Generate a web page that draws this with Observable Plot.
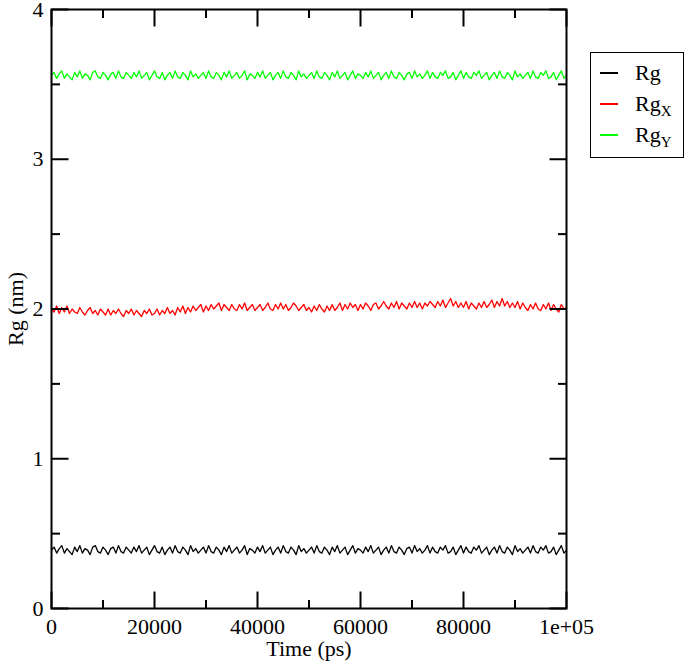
<!DOCTYPE html>
<html>
<head>
<meta charset="utf-8">
<script src="https://cdn.jsdelivr.net/npm/d3@7"></script>
<script src="https://cdn.jsdelivr.net/npm/@observablehq/plot@0.6"></script>
<style>
  body { margin: 0; background: #fff; }
  #wrap { position: relative; width: 685px; height: 666px; font-family: "Liberation Serif", "Times New Roman", serif; }
  #legend { position: absolute; left: 590px; top: 52px; width: 92px; height: 104px; border: 1.5px solid #000; background: #fff; }
  .row { position: absolute; left: 0; height: 30px; width: 92px; }
  .row .sw { position: absolute; left: 9px; width: 18px; height: 1.5px; }
  .row .lb { position: absolute; left: 44px; font-size: 22px; line-height: 1; color: #000; }
  .row .lb sub { font-size: 15px; vertical-align: -5px; line-height: 0; }
</style>
</head>
<body>
<div id="wrap"></div>
<script>
// sampling interval (ps) of the trajectory points
const dt = 500;
const rg = [
0.39,0.41,0.37,0.40,0.42,0.37,0.40,0.38,0.36,0.41,
0.38,0.42,0.37,0.40,0.39,0.36,0.41,0.42,0.38,0.37,
0.41,0.39,0.36,0.40,0.41,0.37,0.42,0.38,0.37,0.41,
0.39,0.37,0.41,0.38,0.42,0.37,0.39,0.41,0.36,0.39,
0.42,0.38,0.37,0.41,0.36,0.39,0.41,0.37,0.42,0.38,
0.37,0.41,0.39,0.36,0.42,0.38,0.40,0.37,0.39,0.41,
0.37,0.42,0.38,0.37,0.41,0.39,0.36,0.41,0.38,0.42,
0.37,0.39,0.41,0.37,0.39,0.42,0.36,0.40,0.39,0.37,
0.41,0.38,0.42,0.37,0.39,0.41,0.36,0.39,0.41,0.37,
0.42,0.38,0.37,0.41,0.39,0.36,0.42,0.38,0.40,0.37,
0.39,0.41,0.37,0.42,0.38,0.37,0.41,0.39,0.36,0.41,
0.38,0.42,0.37,0.39,0.41,0.36,0.39,0.42,0.37,0.40,
0.39,0.37,0.41,0.38,0.42,0.37,0.39,0.41,0.36,0.39,
0.41,0.37,0.42,0.38,0.37,0.41,0.39,0.36,0.40,0.41,
0.37,0.42,0.38,0.40,0.37,0.39,0.42,0.37,0.41,0.38,
0.37,0.41,0.39,0.42,0.37,0.38,0.41,0.36,0.39,0.42,
0.37,0.41,0.38,0.37,0.41,0.39,0.42,0.37,0.39,0.41,
0.36,0.39,0.41,0.37,0.42,0.38,0.37,0.41,0.39,0.36,
0.42,0.38,0.40,0.37,0.39,0.41,0.37,0.42,0.38,0.37,
0.41,0.39,0.42,0.37,0.38,0.41,0.36,0.39,0.42,0.37,
0.39];
const rgX = [
2.00,1.98,2.02,1.97,2.01,1.98,2.02,1.97,2.00,1.98,
1.97,2.01,1.98,1.96,1.99,2.01,1.97,1.99,1.96,2.00,
1.98,1.96,2.00,1.96,1.99,1.97,2.00,1.97,1.95,1.99,
1.97,2.00,1.96,1.99,1.97,1.95,1.99,1.97,2.00,1.96,
1.97,2.00,1.96,1.99,1.97,2.01,1.97,1.99,1.96,2.01,
1.98,2.02,1.97,2.01,1.98,2.02,1.99,2.01,2.03,1.98,
2.02,1.99,2.03,2.00,2.02,2.04,1.99,2.03,2.01,1.99,
2.03,2.00,1.99,2.03,2.00,2.04,1.99,2.01,2.03,1.99,
2.01,2.03,1.99,2.01,2.04,2.00,1.99,2.03,2.00,2.04,
2.00,2.03,1.99,2.01,2.04,2.02,1.99,2.01,2.03,1.99,
2.01,1.98,2.02,1.99,2.03,2.00,1.98,2.02,1.99,2.03,
1.99,2.01,2.04,1.99,2.03,2.00,2.04,2.01,2.03,1.99,
2.03,2.00,2.04,2.02,1.99,2.03,2.04,2.00,2.02,2.05,
2.02,2.00,2.04,2.01,2.05,2.00,2.04,2.02,2.00,2.04,
2.01,2.05,2.01,2.04,2.00,2.04,2.02,2.05,2.03,2.01,
2.05,2.02,2.06,2.01,2.04,2.07,2.02,2.05,2.01,2.04,
2.01,2.05,2.00,2.04,2.02,2.00,2.04,2.01,2.05,2.01,
2.03,2.06,2.01,2.05,2.02,2.07,2.02,2.05,2.01,2.04,
2.01,2.05,2.00,2.04,2.01,1.99,2.03,2.00,2.04,2.00,
1.99,2.03,2.00,2.04,1.99,2.03,2.00,1.98,2.03,2.00,
2.01];
const rgY = [
3.56,3.58,3.54,3.57,3.59,3.54,3.57,3.55,3.53,3.58,
3.55,3.59,3.54,3.57,3.56,3.53,3.58,3.59,3.55,3.54,
3.58,3.56,3.53,3.57,3.58,3.54,3.59,3.55,3.54,3.58,
3.56,3.54,3.58,3.55,3.59,3.54,3.56,3.58,3.53,3.56,
3.59,3.55,3.54,3.58,3.53,3.56,3.58,3.54,3.59,3.55,
3.54,3.58,3.56,3.53,3.59,3.55,3.57,3.54,3.56,3.58,
3.54,3.59,3.55,3.54,3.58,3.56,3.53,3.58,3.55,3.59,
3.54,3.56,3.58,3.54,3.56,3.59,3.53,3.57,3.56,3.54,
3.58,3.55,3.59,3.54,3.56,3.58,3.53,3.56,3.58,3.54,
3.59,3.55,3.54,3.58,3.56,3.53,3.59,3.55,3.57,3.54,
3.56,3.58,3.54,3.59,3.55,3.54,3.58,3.56,3.53,3.58,
3.55,3.59,3.54,3.56,3.58,3.53,3.56,3.59,3.54,3.57,
3.56,3.54,3.58,3.55,3.59,3.54,3.56,3.58,3.53,3.56,
3.58,3.54,3.59,3.55,3.54,3.58,3.56,3.53,3.57,3.58,
3.54,3.59,3.55,3.57,3.54,3.56,3.59,3.54,3.58,3.55,
3.54,3.58,3.56,3.59,3.54,3.55,3.58,3.53,3.56,3.59,
3.54,3.58,3.55,3.54,3.58,3.56,3.59,3.54,3.56,3.58,
3.53,3.56,3.58,3.54,3.59,3.55,3.54,3.58,3.56,3.53,
3.59,3.55,3.57,3.54,3.56,3.58,3.54,3.59,3.55,3.54,
3.58,3.56,3.59,3.54,3.55,3.58,3.53,3.56,3.59,3.54,
3.56];

const seriesNames = ["Rg", "RgX", "RgY"];
const seriesColors = ["#000000", "#ff0000", "#00ff00"];
const majorX = [0, 20000, 40000, 60000, 80000, 100000];
const minorX = [10000, 30000, 50000, 70000, 90000];
const xTickLabels = ["0", "20000", "40000", "60000", "80000", "1e+05"];
const majorY = [0, 1, 2, 3, 4];
const minorY = [0.5, 1.5, 2.5, 3.5];

const rows = [];
[rg, rgX, rgY].forEach((arr, s) => arr.forEach((v, i) => rows.push({t: i * dt, v, s: seriesNames[s]})));

const font = "Liberation Serif, Times New Roman, serif";
const W = 685, H = 666, mL = 51, mR = 119, mT = 9, mB = 58;
const xMin = 0, xMax = 100000, yMin = 0, yMax = 4;
const MAJ = 17, MIN = 8.5; // inward tick lengths in pixels
// convert pixel tick lengths into data units along each axis
const pxX = (xMax - xMin) / (W - mL - mR);
const pxY = (yMax - yMin) / (H - mT - mB);

const tickRows = [];
majorX.forEach((v) => { tickRows.push({x1: v, x2: v, y1: yMin, y2: yMin + MAJ * pxY}); tickRows.push({x1: v, x2: v, y1: yMax, y2: yMax - MAJ * pxY}); });
minorX.forEach((v) => { tickRows.push({x1: v, x2: v, y1: yMin, y2: yMin + MIN * pxY}); tickRows.push({x1: v, x2: v, y1: yMax, y2: yMax - MIN * pxY}); });
majorY.forEach((v) => { tickRows.push({x1: xMin, x2: xMin + MAJ * pxX, y1: v, y2: v}); tickRows.push({x1: xMax, x2: xMax - MAJ * pxX, y1: v, y2: v}); });
minorY.forEach((v) => { tickRows.push({x1: xMin, x2: xMin + MIN * pxX, y1: v, y2: v}); tickRows.push({x1: xMax, x2: xMax - MIN * pxX, y1: v, y2: v}); });

const chart = Plot.plot({
  width: W, height: H,
  marginLeft: mL, marginRight: mR, marginTop: mT, marginBottom: mB,
  style: {fontFamily: font, fontSize: "22px", background: "#fff", color: "#000"},
  x: {domain: [xMin, xMax]},
  y: {domain: [yMin, yMax]},
  color: {domain: seriesNames, range: seriesColors},
  marks: [
    Plot.line(rows, {x: "t", y: "v", z: "s", stroke: "s", strokeWidth: 1.3}),
    Plot.link(tickRows, {x1: "x1", y1: "y1", x2: "x2", y2: "y2", stroke: "#000", strokeWidth: 2}),
    Plot.frame({stroke: "#000", strokeWidth: 2}),
    Plot.axisX(majorX, {anchor: "bottom", tickSize: 0, tickPadding: 10, fontSize: 22,
      tickFormat: (d) => xTickLabels[majorX.indexOf(d)],
      label: "Time (ps)", labelAnchor: "center", labelOffset: 47, labelArrow: "none"}),
    Plot.axisY(majorY, {anchor: "left", tickSize: 0, tickPadding: 8, fontSize: 22,
      tickFormat: (d) => String(d),
      label: "Rg (nm)", labelAnchor: "center", labelOffset: 44, labelArrow: "none"})
  ]
});

const wrap = document.getElementById("wrap");
wrap.appendChild(chart);

const legend = document.createElement("div");
legend.id = "legend";
const labelsHtml = ["Rg", "Rg<sub>X</sub>", "Rg<sub>Y</sub>"];
const rowTops = [6, 37, 68];
seriesNames.forEach((name, i) => {
  const r = document.createElement("div");
  r.className = "row";
  r.style.top = rowTops[i] + "px";
  r.innerHTML = `<div class="sw" style="top:13px;background:${seriesColors[i]}"></div><div class="lb" style="top:3px">${labelsHtml[i]}</div>`;
  legend.appendChild(r);
});
wrap.appendChild(legend);
</script>
</body>
</html>
